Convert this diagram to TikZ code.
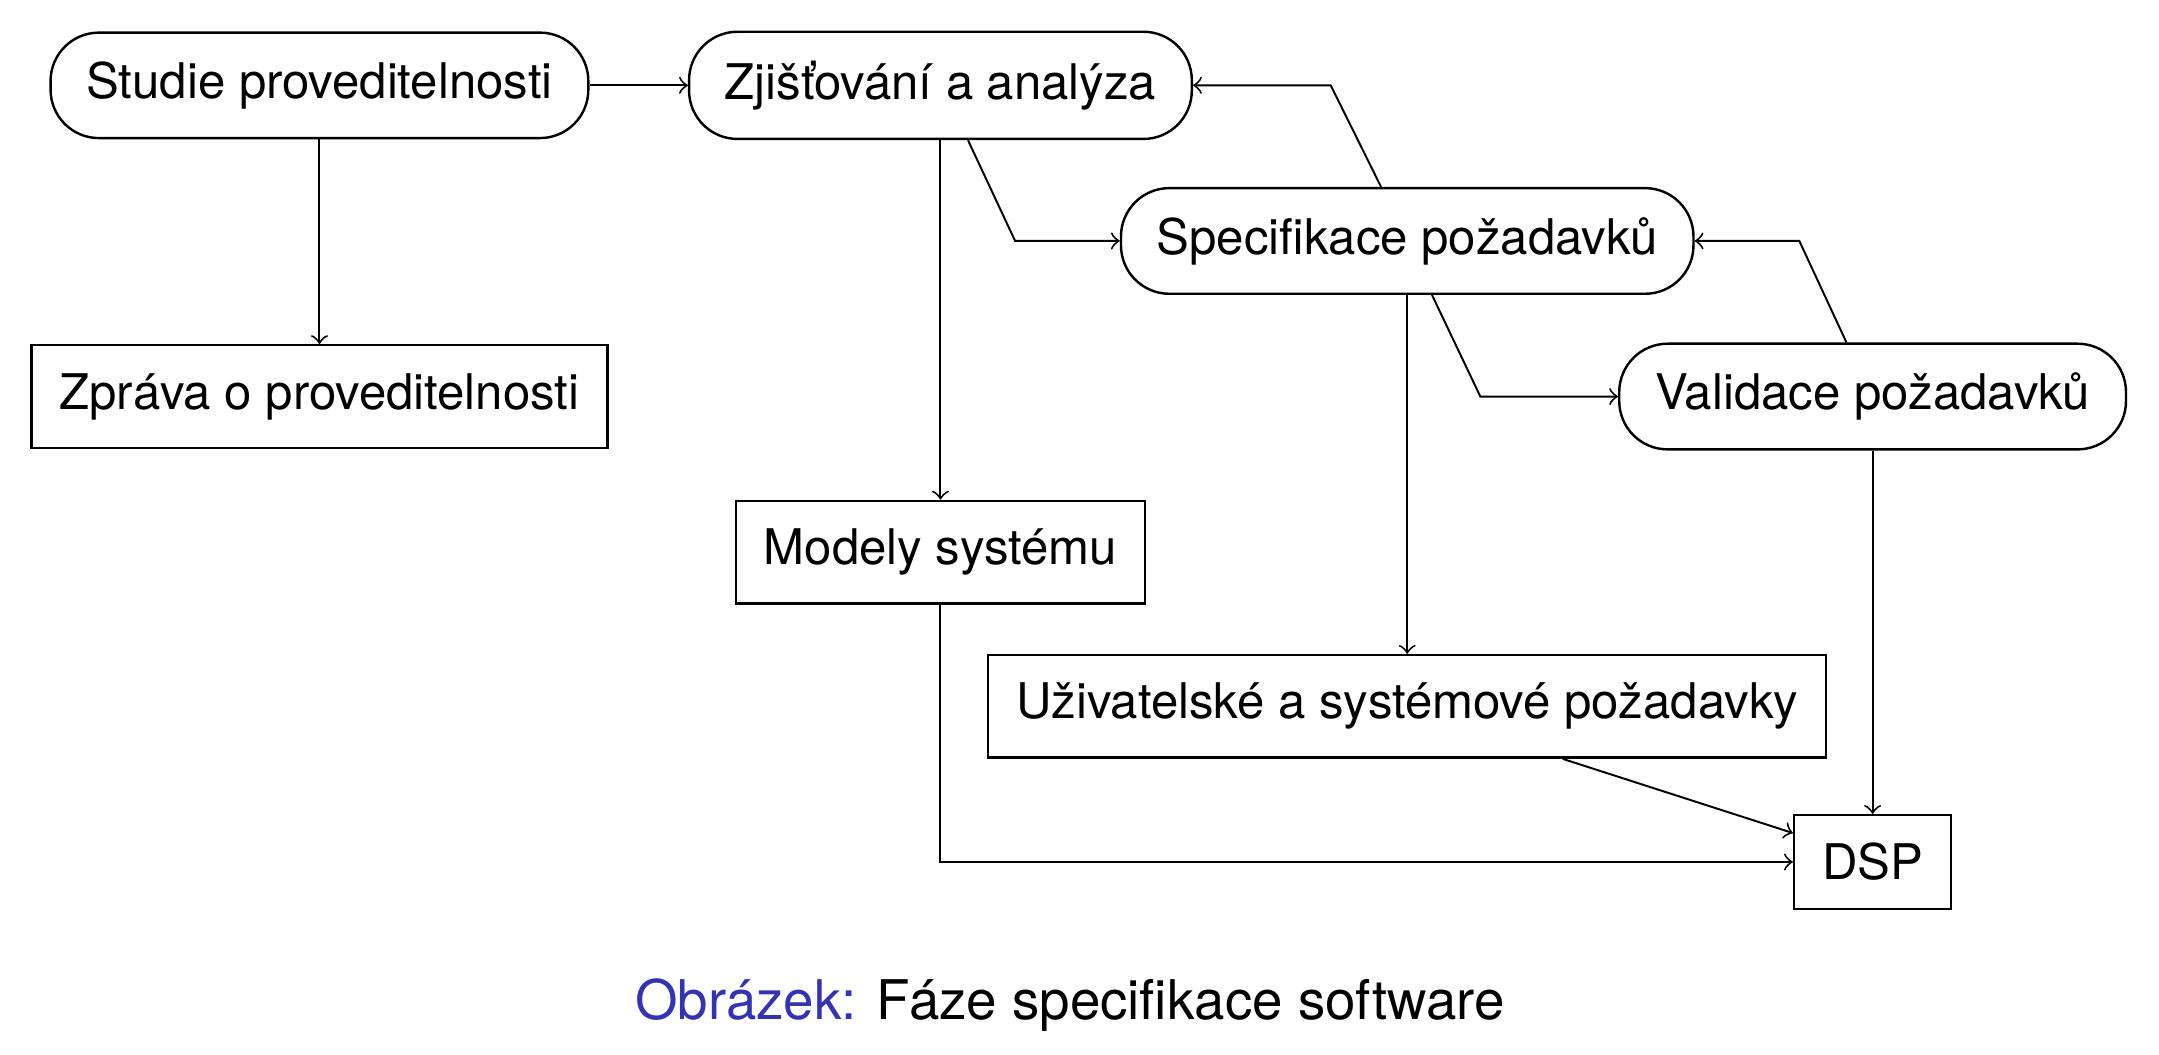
\documentclass[tikz,border=0pt]{standalone}
\usepackage{fontspec}
\setmainfont{TeX Gyre Heros}
\usepackage{tikz}
\usetikzlibrary{arrows}
\definecolor{obrblue}{RGB}{51,51,179}

\begin{document}
\begin{tikzpicture}[
        every node/.style={font=\fontsize{10.15}{12}\selectfont},
        proces/.style={draw, line width=0.5pt, rectangle, rounded corners=10pt, inner xsep=7.4pt, inner ysep=6pt},
        dokument/.style={draw, line width=0.5pt, rectangle, inner sep=5.8pt},
        spoj/.style={->, line width=0.4pt}]
                \useasboundingbox (0,0) rectangle (15.68,-7.66);
                \node[proces] (studie) at (2.32,-0.62) {Studie proveditelnosti};
                \node[proces] (zjist) at (6.83,-0.62) {Zjišťování a analýza};
                \node[proces] (spec) at (10.22,-1.75) {Specifikace požadavků};
                \node[proces] (valid) at (13.60,-2.88) {Validace požadavků};
                \node[dokument] (zprava) at (2.32,-2.88) {Zpráva o proveditelnosti};
                \node[dokument] (modely) at (6.83,-4.01) {Modely systému};
                \node[dokument] (uziv) at (10.22,-5.13) {Uživatelské a systémové požadavky};
                \node[dokument] (dsp) at (13.60,-6.26) {DSP};
                \node[font=\fontsize{11.3}{13}\selectfont] (popis) at (7.77,-7.30) {\textcolor{obrblue}{Obrázek:} Fáze specifikace software};
                \draw[spoj] (studie.east) -- (zjist.west);
                \draw[spoj] (studie.south) -- (zprava.north);
                \draw[spoj] (zjist.south) -- (modely.north);
                \draw[spoj] ([xshift=2mm]zjist.south) -- ([xshift=-7.6mm]spec.west) -- (spec.west);
                \draw[spoj] ([xshift=-1.9mm]spec.north) -- ([xshift=10mm]zjist.east) -- (zjist.east);
                \draw[spoj] (spec.south) -- (uziv.north);
                \draw[spoj] ([xshift=1.8mm]spec.south) -- ([xshift=-10mm]valid.west) -- (valid.west);
                \draw[spoj] ([xshift=-1.9mm]valid.north) -- ([xshift=7.6mm]spec.east) -- (spec.east);
                \draw[spoj] (valid.south) -- (dsp.north);
                \draw[spoj] ([xshift=11.3mm]uziv.south) -- ([yshift=2.1mm]dsp.west);
                \draw[spoj] (modely.south) |- (dsp.west);
        \end{tikzpicture}
\end{document}
